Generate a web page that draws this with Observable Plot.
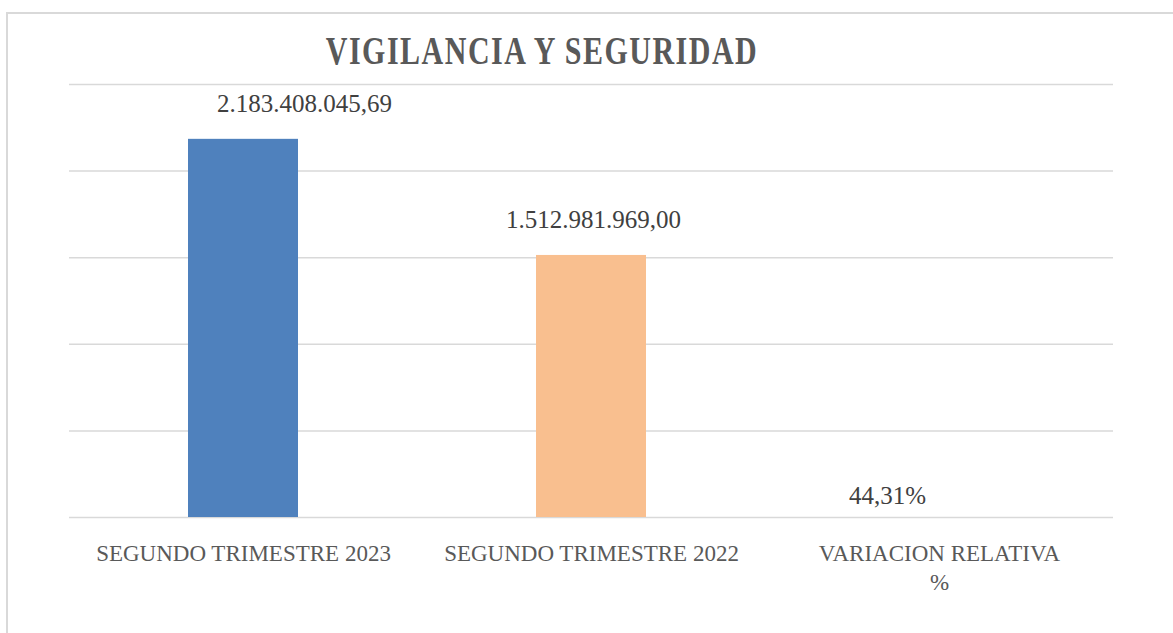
<!DOCTYPE html>
<html><head><meta charset="utf-8">
<script src="https://cdn.jsdelivr.net/npm/d3@7"></script>
<script src="https://cdn.jsdelivr.net/npm/@observablehq/plot@0.6"></script>
<style>
html,body{margin:0;padding:0;background:#fff;}
#wrap{position:relative;width:1173px;height:633px;overflow:hidden;}
#frame{position:absolute;left:6px;top:12px;width:1200px;height:700px;border-left:2px solid #d9d9d9;border-top:2px solid #d9d9d9;}
#title{position:absolute;left:542px;top:36px;font-family:"Liberation Serif",serif;font-weight:bold;font-size:30px;line-height:30px;letter-spacing:1.5px;color:#595959;white-space:nowrap;transform:translateX(-50%) scaleY(1.3);transform-origin:50% 50%;}
#chart{position:absolute;left:0;top:0;}
</style></head>
<body><div id="wrap"><div id="frame"></div><div id="chart"></div><div id="title">VIGILANCIA Y SEGURIDAD</div></div>
<script>
const categories = ["SEGUNDO TRIMESTRE 2023", "SEGUNDO TRIMESTRE 2022", "VARIACION RELATIVA %"];
const values = [2183408045.69, 1512981969.00, 0.4431];
const colors = ["#4f81bd", "#f9bf8f", "#a5a5a5"];
const yTicks = [0, 5e8, 1e9, 1.5e9, 2e9, 2.5e9];

const data = categories.map((c, i) => ({category: c, value: values[i]}));
const loc = d3.formatLocale({decimal: ",", thousands: ".", grouping: [3], currency: ["", ""], percent: "%"});
const fmtMoney = loc.format(",.2f");
const fmtPct = loc.format(".2%");

const label = (i, fmt, dx, dy) => Plot.text([data[i]], {
  x: "category", y: "value", text: d => fmt(d.value),
  lineAnchor: "bottom", dx, dy, fontSize: 25, fill: "#404040"
});

const chart = Plot.plot({
  width: 1173, height: 633,
  marginLeft: 69, marginRight: 60, marginTop: 84, marginBottom: 116,
  style: {background: "transparent", fontFamily: "'Liberation Serif', serif", color: "#595959"},
  x: {domain: categories, padding: 0, axis: null, label: null},
  y: {domain: [0, 2.5e9], axis: null},
  color: {domain: categories, range: colors},
  marks: [
    Plot.gridY(yTicks, {stroke: "#d9d9d9", strokeOpacity: 1, strokeWidth: 1.5}),
    Plot.barY(data, {x: "category", y: "value", fill: "category", insetLeft: 119, insetRight: 119}),
    label(0, fmtMoney, 61, -27),
    label(1, fmtMoney, 2, -27),
    label(2, fmtPct, -52, -14),
    Plot.axisX({tickSize: 0, tickPadding: 23, fontSize: 23, lineHeight: 1.25, fill: "#595959", label: null,
      tickFormat: d => d.replace(" %", "\n%")})
  ]
});
document.getElementById("chart").appendChild(chart);
</script>
</body></html>
